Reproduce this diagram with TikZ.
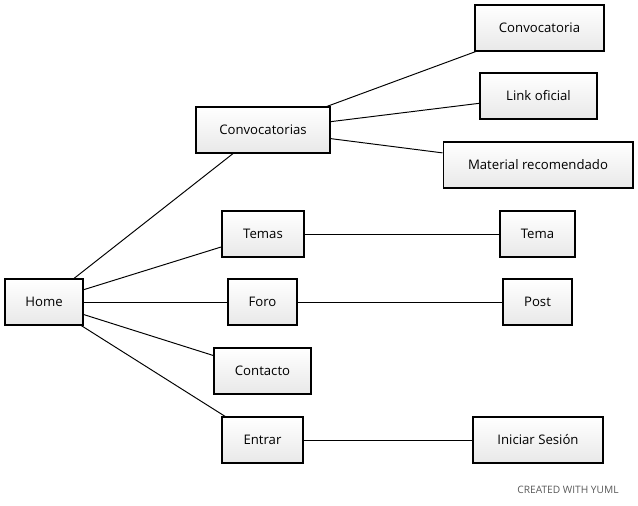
\documentclass[tikz,border=0pt]{standalone}
\usepackage{fontspec}
\setmainfont{Open Sans}
\usetikzlibrary{shadows}
\tikzset{
	box/.style={draw=black,line width=0.6pt,top color=white,bottom color=gray!18,
		inner xsep=0pt,minimum height=0.92cm,minimum width=#1,font=\fontsize{7.5}{9}\selectfont,
		drop shadow={shadow xshift=0.8pt,shadow yshift=-0.8pt,opacity=0.12}},
	box/.default=2cm,
	link/.style={line width=0.55pt}
}
\begin{document}
\begin{tikzpicture}[x=0.02cm,y=-0.02cm]
		\useasboundingbox (0,0) rectangle (638,505);
		\node[box=1.56cm] (home) at (44,302) {Home};
		\node[box=2.68cm] (convs) at (263,130) {Convocatorias};
		\node[box=1.64cm] (temas) at (263,234) {Temas};
		\node[box=1.38cm] (foro) at (262.5,302) {Foro};
		\node[box=1.94cm] (contacto) at (262.5,371) {Contacto};
		\node[box=1.62cm] (entrar) at (262.5,440) {Entrar};
		\node[box=2.58cm] (conv) at (539.5,28) {Convocatoria};
		\node[box=2.34cm] (link) at (538.5,96) {Link oficial};
		\node[box=3.8cm] (material) at (538,165) {Material recomendado};
		\node[box=1.5cm] (tema) at (537.5,234) {Tema};
		\node[box=1.38cm] (post) at (537.5,302) {Post};
		\node[box=2.6cm] (iniciar) at (538,440) {Iniciar Sesión};
		\foreach \a/\b in {home/convs,home/temas,home/foro,home/contacto,home/entrar,
			convs/conv,convs/link,convs/material,temas/tema,foro/post,entrar/iniciar}{
			\draw[link] (\a) -- (\b);
		}
		\node[text=gray!70!black,font=\fontsize{5.8}{6}\selectfont] (yuml) at (568,490) {CREATED WITH YUML};
\end{tikzpicture}
\end{document}
